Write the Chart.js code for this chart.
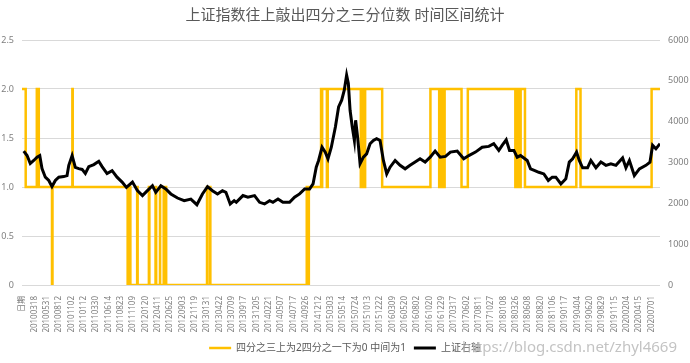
<!DOCTYPE html>
<html>
<head>
<meta charset="utf-8">
<script src="https://cdn.jsdelivr.net/npm/chart.js@4/dist/chart.umd.min.js"></script>
<style>
  html, body { margin: 0; padding: 0; background: #fff; }
</style>
</head>
<body>
<canvas id="chart" width="690" height="363"></canvas>
<script>
// x axis: one tick per label, positions below are in "label units"
var dateLabels = ["日期", "20100318", "20100531", "20100812", "20101102", "20110112", "20110330",
  "20110614", "20110823", "20111109", "20120120", "20120411", "20120625", "20120903", "20121119",
  "20130131", "20130422", "20130709", "20130917", "20131205", "20140221", "20140507", "20140717",
  "20140926", "20141212", "20150303", "20150514", "20150724", "20151013", "20151222", "20160309",
  "20160520", "20160802", "20161020", "20161229", "20170317", "20170602", "20170811", "20171027",
  "20180108", "20180326", "20180608", "20180820", "20181106", "20190117", "20190404", "20190620",
  "20190829", "20191115", "20200204", "20200415", "20200701"];

// 上证 close (right axis)
var szPos = [0.14, 0.41, 0.67, 0.95, 1.22, 1.44, 1.62, 1.89, 2.17, 2.43, 2.70, 2.98, 3.38, 3.65, 3.79,
  4.06, 4.32, 4.60, 4.87, 5.13, 5.41, 5.82, 6.22, 6.49, 6.89, 7.30, 7.70, 8.11, 8.46, 8.95,
  9.35, 9.76, 10.16, 10.57, 10.84, 11.25, 11.65, 12.06, 12.60, 13.14, 13.68, 14.17, 14.62, 15.03, 15.43,
  15.84, 16.24, 16.52, 16.87, 17.19, 17.36, 17.90, 18.30, 18.84, 19.25, 19.65, 20.06, 20.33, 20.74, 21.14,
  21.68, 22.08, 22.49, 22.90, 23.30, 23.58, 23.84, 24.03, 24.31, 24.57, 24.79, 25.06, 25.39, 25.65, 25.90,
  26.11, 26.30, 26.44, 26.58, 26.76, 26.93, 27.03, 27.19, 27.39, 27.66, 27.92, 28.20, 28.47, 28.73, 29.01,
  29.28, 29.55, 29.82, 30.23, 30.63, 31.04, 31.44, 31.85, 32.25, 32.66, 33.07, 33.47, 33.88, 34.31, 34.71,
  35.26, 35.79, 36.20, 36.74, 37.28, 37.82, 38.22, 38.63, 38.90, 39.23, 39.50, 39.85, 40.12, 40.39, 40.66,
  40.93, 41.20, 41.55, 41.87, 42.28, 42.64, 42.96, 43.25, 43.66, 44.06, 44.34, 44.61, 44.93, 45.15, 45.42,
  45.82, 46.09, 46.50, 46.90, 47.31, 47.71, 48.12, 48.66, 48.93, 49.21, 49.61, 50.02, 50.55, 50.88, 51.09,
  51.36, 51.69];
var szVal = [3280, 3170, 2975, 3050, 3130, 3170, 2850, 2640, 2560, 2410, 2560, 2640, 2655, 2680, 2930,
  3170, 2880, 2850, 2830, 2730, 2900, 2950, 3030, 2900, 2730, 2800, 2640, 2520, 2390, 2520,
  2310, 2190, 2310, 2430, 2270, 2430, 2350, 2230, 2130, 2065, 2105, 1967, 2230, 2410, 2310,
  2230, 2310, 2270, 1985, 2065, 2025, 2190, 2150, 2190, 2025, 1985, 2065, 2025, 2105, 2025,
  2025, 2150, 2230, 2350, 2350, 2475, 2885, 3050, 3375, 3255, 3090, 3375, 3870, 4360, 4525,
  4770, 5140, 4935, 4280, 3870, 3540, 4035, 3620, 2970, 3130, 3210, 3460, 3540, 3585, 3540,
  3050, 2720, 2885, 3050, 2930, 2845, 2930, 3010, 3090, 3010, 3130, 3280, 3130, 3150, 3255,
  3280, 3090, 3170, 3255, 3375, 3395, 3460, 3295, 3420, 3555, 3295, 3295, 3130, 3170, 3110,
  3050, 2845, 2800, 2760, 2720, 2560, 2640, 2640, 2475, 2600, 3010, 3090, 3255, 3050, 2870,
  2870, 3050, 2870, 3010, 2930, 2970, 2930, 3110, 2870, 3050, 2680, 2845, 2930, 3010, 3420,
  3335, 3460];

// 四分位 state (left axis): value holds from each position to the next
var capPos = [0, 0.30, 1.20, 1.26, 1.30, 1.36, 2.43, 2.47, 4.08, 4.11,
  8.56, 8.60, 8.78, 9.33, 9.37, 10.28, 10.32, 10.82, 10.87, 11.18, 11.19,
  11.48, 11.56, 11.61, 11.68, 14.99, 15.02, 15.24, 15.26, 23.07, 23.14, 23.24,
  24.23, 24.28, 24.32, 24.70, 24.77, 27.45, 27.52, 27.58, 27.64, 27.70, 27.80, 29.18,
  33.09, 33.80, 33.87, 33.93, 34.00, 34.06, 34.13, 34.19, 34.24, 35.61, 36.12,
  39.97, 40.03, 40.10, 40.16, 40.23, 40.29, 40.36, 40.40, 40.75, 44.91, 45.25, 51.01, 51.69];
var capVal = [2, 1, 2, 1, 2, 1, 0, 1, 2, 1,
  0, 1, 0, 1, 0, 1, 0, 1, 0, 1, 0,
  1, 0, 1, 0, 1, 0, 1, 0, 1, 0, 1,
  2, 1, 2, 1, 2, 1, 2, 1, 2, 1, 2, 1,
  2, 1, 2, 1, 2, 1, 2, 1, 2, 1, 2,
  1, 2, 1, 2, 1, 2, 1, 2, 1, 2, 1, 2, 2];

var seriesNames = ["四分之三上为2四分之一下为0 中间为1", "上证右轴"];

var xMax = szPos[szPos.length - 1];
var fontFamily = "'Noto Sans', 'Noto Sans CJK SC', sans-serif";

// watermark text over the legend
var watermark = {
  id: 'watermark',
  afterDraw: function(chart) {
    var c = chart.ctx;
    c.save();
    c.font = "15px " + fontFamily;
    c.fillStyle = "rgba(185,185,185,0.85)";
    c.textAlign = "right";
    c.textBaseline = "middle";
    c.fillText("https://blog.csdn.net/zhyl4669", 677, 348);
    c.restore();
  }
};

var ctx = document.getElementById('chart');
var myChart = new Chart(ctx, {
  type: 'line',
  data: {
    datasets: [{
      label: seriesNames[0],
      data: capPos.map(function(p, i) { return { x: p, y: capVal[i] }; }),
      borderColor: "#FFC000",
      backgroundColor: "#FFC000",
      borderWidth: 2.5,
      stepped: true,
      pointRadius: 0,
      yAxisID: 'y',
      order: 1
    }, {
      label: seriesNames[1],
      data: szPos.map(function(p, i) { return { x: p, y: szVal[i] }; }),
      borderColor: "#000000",
      backgroundColor: "#000000",
      borderWidth: 3,
      tension: 0,
      pointRadius: 0,
      yAxisID: 'y2',
      order: 0
    }]
  },
  options: {
    responsive: false,
    animation: false,
    layout: { padding: { left: 0, right: 0, top: 0, bottom: 0 } },
    plugins: {
      title: {
        display: true,
        text: "上证指数往上敲出四分之三分位数 时间区间统计",
        color: "#595959",
        font: { family: fontFamily, size: 15, weight: 'normal' },
        padding: { top: 7, bottom: 15 }
      },
      legend: {
        position: 'bottom',
        labels: {
          color: "#595959",
          font: { family: fontFamily, size: 10 },
          usePointStyle: true,
          pointStyle: 'line',
          pointStyleWidth: 22,
          padding: 8,
          sort: function(a, b) { return a.datasetIndex - b.datasetIndex; }
        }
      },
      tooltip: { enabled: false }
    },
    scales: {
      x: {
        type: 'linear',
        min: 0,
        max: xMax,
        grid: { display: false },
        border: { display: false },
        afterBuildTicks: function(scale) {
          scale.ticks = dateLabels.map(function(d, i) { return { value: i }; });
        },
        afterFit: function(scale) { scale.height = 50; },
        ticks: {
          autoSkip: false,
          minRotation: 90,
          maxRotation: 90,
          padding: 3,
          color: "#7f7f7f",
          font: { family: fontFamily, size: 8 },
          callback: function(v) { return dateLabels[v]; }
        }
      },
      y: {
        position: 'left',
        min: 0,
        max: 2.5,
        grid: { color: "#d9d9d9", drawTicks: false },
        border: { display: false },
        afterFit: function(scale) { scale.width = 22; },
        ticks: {
          stepSize: 0.5,
          padding: 8,
          color: "#7f7f7f",
          font: { family: fontFamily, size: 9 }
        }
      },
      y2: {
        position: 'right',
        min: 0,
        max: 6000,
        grid: { drawOnChartArea: false, drawTicks: false },
        border: { display: false },
        afterFit: function(scale) { scale.width = 30; },
        ticks: {
          stepSize: 1000,
          padding: 8,
          color: "#7f7f7f",
          font: { family: fontFamily, size: 9 },
          callback: function(v) { return String(v); }
        }
      }
    }
  },
  plugins: [watermark]
});
</script>
</body>
</html>
